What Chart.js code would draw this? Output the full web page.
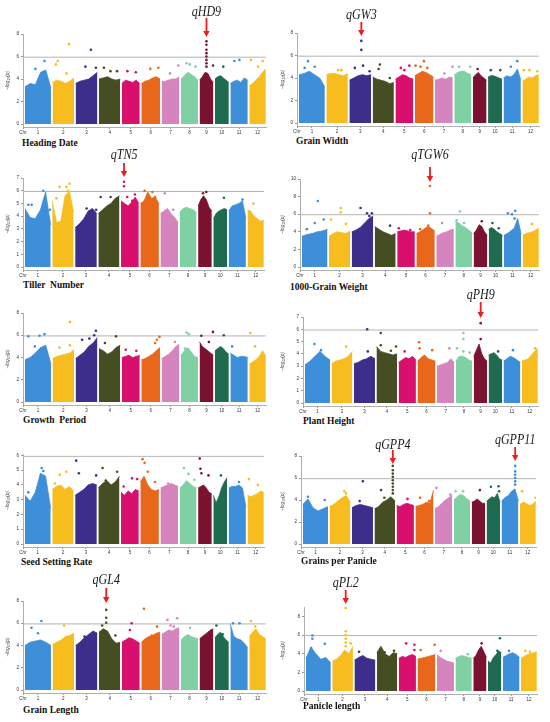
<!DOCTYPE html>
<html>
<head>
<meta charset="utf-8">
<script src="https://cdn.jsdelivr.net/npm/chart.js@4.4.0/dist/chart.umd.min.js"></script>
<style>
html, body { margin: 0; padding: 0; background: #fff; }
#page { position: relative; width: 550px; height: 722px; overflow: hidden; }
.panel { position: absolute; }
.trait { position: absolute; font-family: "Liberation Serif", "Times New Roman", serif; font-weight: bold;
         font-size: 9.5px; line-height: 1; white-space: pre; transform: translateY(-50%); color: #111; }
</style>
</head>
<body>
<div id="page"></div>
<script>
'use strict';

// chromosomes
const chrNames = ['1', '2', '3', '4', '5', '6', '7', '8', '9', '10', '11', '12'];
const chrLenMb = [43.3, 35.9, 36.4, 35.5, 29.9, 31.2, 29.7, 28.4, 23.0, 23.2, 29.0, 27.5];
const chrColors = ['#3d8fd9', '#f7bd1e', '#3d2e8c', '#454e23', '#d80f6d', '#e8671b',
                   '#d584bd', '#7fd1a4', '#7b1330', '#1f6b4f', '#3d8fd9', '#f7bd1e'];
const THRESHOLD = 5.94;

// Heading Date
const hdTicks = [0, 2, 4, 6, 8];
const hdBody = [
  [3.3, 3.6, 3.5, 4.6, 4.8, 3.2], [3.7, 3.9, 3.8, 3.6, 3.8, 4.1], [3.6, 3.8, 3.9, 4.0, 4.3, 4.6],
  [4.0, 4.1, 4.2, 4.0, 3.9, 4.0], [3.6, 3.9, 3.8, 3.7, 3.9, 3.6], [3.6, 3.8, 3.9, 4.1, 4.2, 4.0],
  [3.8, 3.8, 3.9, 4.0, 4.0, 4.2], [4.0, 4.3, 4.6, 4.4, 4.2, 3.9], [3.9, 4.2, 4.6, 4.5, 4.0, 3.7],
  [4.0, 4.2, 4.3, 4.1, 3.9, 3.7], [3.6, 3.8, 3.9, 3.7, 4.1, 3.9], [3.4, 3.6, 3.9, 4.2, 4.6, 4.9]
];
const hdPeaks = [
  [1, 0.40, 4.9], [1, 0.75, 5.6],
  [2, 0.16, 5.3], [2, 0.24, 5.6], [2, 0.65, 4.5], [2, 0.77, 7.1],
  [3, 0.45, 5.1], [3, 0.70, 6.6], [3, 0.93, 5.0],
  [4, 0.23, 5.0], [4, 0.54, 4.7], [4, 0.85, 4.7],
  [5, 0.31, 4.7], [5, 0.78, 4.6],
  [6, 0.48, 4.9], [6, 0.91, 5.0],
  [7, 0.47, 4.5], [7, 0.94, 5.2],
  [8, 0.33, 5.4], [8, 0.52, 5.3], [8, 0.85, 5.1],
  [9, 0.5, 7.35], [9, 0.5, 7.05], [9, 0.5, 6.6], [9, 0.5, 6.3], [9, 0.5, 6.0], [9, 0.5, 5.7],
  [9, 0.5, 5.4], [9, 0.5, 5.1], [9, 0.98, 5.2],
  [10, 0.6, 5.1],
  [11, 0.23, 5.6], [11, 0.52, 5.7],
  [12, 0.09, 5.7], [12, 0.53, 5.1], [12, 0.81, 5.6]
];

// Grain Width
const gwTicks = [0, 2, 4, 6, 8];
const gwBody = [
  [4.3, 4.4, 4.6, 4.3, 4.0, 3.2], [4.3, 4.4, 4.4, 4.3, 4.2, 4.4], [3.8, 4.0, 4.2, 4.3, 4.2, 4.3],
  [4.1, 3.9, 3.8, 3.7, 3.5, 3.6], [3.9, 4.1, 4.3, 4.2, 4.0, 3.9], [4.2, 4.4, 4.6, 4.5, 4.3, 4.1],
  [3.8, 3.9, 4.0, 3.9, 4.1, 4.0], [4.3, 4.5, 4.6, 4.6, 4.4, 4.3], [4.0, 4.3, 4.5, 4.2, 4.0, 3.8],
  [4.1, 4.2, 4.2, 4.1, 4.0, 3.9], [4.0, 4.2, 4.1, 4.3, 4.8, 3.8], [3.7, 3.9, 4.1, 4.0, 4.2, 4.3]
];
const gwPeaks = [
  [1, 0.22, 4.9], [1, 0.35, 5.5], [1, 0.61, 5.0],
  [2, 0.55, 4.7], [2, 0.70, 4.7],
  [3, 0.25, 4.9], [3, 0.55, 7.3], [3, 0.55, 6.5], [3, 0.63, 5.1], [3, 0.93, 4.6],
  [4, 0.28, 4.8], [4, 0.34, 5.2], [4, 0.81, 4.0],
  [5, 0.30, 4.9], [5, 0.50, 4.7], [5, 0.78, 5.1],
  [6, 0.04, 5.1], [6, 0.31, 5.0], [6, 0.49, 5.5], [6, 0.67, 4.9],
  [7, 0.53, 4.4], [7, 0.99, 5.0],
  [8, 0.28, 5.0], [8, 0.94, 5.0],
  [9, 0.35, 4.8],
  [10, 0.19, 4.7], [10, 0.88, 4.7],
  [11, 0.42, 5.0], [11, 0.79, 5.5],
  [12, 0.09, 4.7], [12, 0.43, 4.7], [12, 0.91, 4.6]
];

// Tiller Number
const tnTicks = [0, 1, 2, 3, 4, 5, 6, 7];
const tnBody = [
  [4.6, 3.9, 3.8, 4.5, 5.9, 3.3], [5.2, 3.5, 3.6, 5.6, 6.0, 4.3], [3.1, 3.4, 3.8, 4.4, 4.6, 4.2],
  [4.2, 4.5, 4.8, 5.0, 5.4, 5.6], [5.2, 5.0, 4.8, 5.1, 5.5, 5.0], [5.0, 5.2, 5.9, 5.4, 5.5, 5.0],
  [4.2, 4.4, 4.6, 4.2, 3.9, 3.5], [4.3, 4.6, 4.7, 4.6, 4.5, 4.3], [4.8, 5.3, 5.6, 5.3, 4.7, 4.4],
  [3.8, 4.2, 4.4, 4.5, 4.6, 4.5], [4.4, 4.8, 4.9, 5.0, 5.2, 3.8], [4.5, 4.4, 4.0, 3.8, 3.6, 3.7]
];
const tnPeaks = [
  [1, 0.13, 4.9], [1, 0.26, 4.9], [1, 0.71, 6.0], [1, 0.97, 4.5],
  [2, 0.19, 5.4], [2, 0.34, 6.3], [2, 0.66, 6.3], [2, 0.73, 6.0], [2, 0.81, 6.55],
  [3, 0.53, 4.6], [3, 0.97, 4.5],
  [4, 0.11, 5.5], [4, 0.58, 5.5], [4, 0.73, 5.1],
  [5, 0.17, 6.7], [5, 0.17, 6.35], [5, 0.35, 5.5], [5, 0.63, 5.2], [5, 0.78, 5.7],
  [6, 0.23, 6.0], [6, 0.65, 5.9], [6, 0.79, 5.5],
  [7, 0.25, 5.8], [7, 0.72, 4.5],
  [9, 0.36, 5.8], [9, 0.6, 5.9],
  [10, 0.77, 5.45],
  [11, 0.8, 5.3],
  [12, 0.36, 5.0]
];

// 1000-Grain Weight
const tgwTicks = [0, 2, 4, 6, 8, 10];
const tgwBody = [
  [3.5, 3.7, 3.8, 4.0, 4.1, 4.3], [3.5, 3.8, 4.0, 3.9, 3.8, 4.1], [4.0, 4.2, 4.5, 5.0, 5.5, 5.8],
  [4.6, 4.3, 4.0, 3.8, 3.6, 3.8], [4.0, 4.1, 4.2, 4.1, 4.0, 4.0], [3.8, 4.0, 4.3, 4.6, 4.4, 4.1],
  [3.5, 3.7, 3.9, 4.0, 4.2, 4.3], [5.2, 5.0, 4.7, 4.5, 4.2, 3.9], [3.8, 4.2, 4.8, 4.6, 4.0, 3.6],
  [4.3, 4.5, 4.3, 4.0, 3.8, 3.6], [3.6, 3.8, 4.1, 4.4, 5.5, 3.8], [3.6, 3.8, 3.9, 4.0, 4.2, 4.4]
];
const tgwPeaks = [
  [1, 0.19, 4.3], [1, 0.5, 5.0], [1, 0.62, 7.5], [1, 0.85, 5.4],
  [2, 0.09, 5.4], [2, 0.55, 6.7], [2, 0.55, 6.2], [2, 0.8, 4.9],
  [3, 0.41, 6.7], [3, 0.71, 6.1], [3, 0.82, 5.8], [3, 0.94, 6.1],
  [4, 0.73, 4.7],
  [5, 0.09, 4.4], [5, 0.74, 4.2],
  [6, 0.21, 4.3], [6, 0.65, 4.7], [6, 0.74, 9.2], [6, 0.74, 6.1],
  [7, 0.33, 5.0],
  [8, 0.08, 5.3], [8, 0.27, 6.3], [8, 0.52, 5.0],
  [9, 0.6, 5.2],
  [10, 0.27, 5.0], [10, 0.73, 4.4],
  [11, 0.23, 6.1], [11, 0.47, 6.0], [11, 0.62, 5.5], [11, 0.66, 6.4],
  [12, 0.58, 4.9]
];

// Growth Period
const gpTicks = [0, 2, 4, 6, 8];
const gpBody = [
  [3.8, 4.0, 4.4, 4.9, 5.1, 3.4], [3.9, 4.1, 4.2, 4.3, 4.4, 4.7], [3.9, 4.2, 4.5, 5.0, 5.3, 5.8],
  [4.8, 4.6, 4.3, 4.5, 4.9, 5.1], [4.0, 4.1, 4.2, 4.0, 4.1, 4.2], [3.8, 3.9, 4.1, 4.3, 4.6, 4.9],
  [3.9, 4.1, 4.3, 4.6, 5.0, 5.2], [4.2, 4.6, 4.9, 4.5, 4.1, 4.0], [5.4, 5.0, 4.8, 4.6, 4.4, 4.2],
  [4.6, 4.8, 5.0, 4.8, 4.5, 4.3], [4.4, 4.2, 4.0, 4.1, 4.1, 4.0], [3.4, 3.6, 3.8, 4.1, 4.6, 4.1]
];
const gpPeaks = [
  [1, 0.13, 5.9], [1, 0.38, 5.0], [1, 0.56, 5.95], [1, 0.75, 6.1],
  [2, 0.32, 4.9], [2, 0.81, 7.2], [2, 0.81, 5.1],
  [3, 0.3, 5.6], [3, 0.63, 5.7], [3, 0.85, 6.0], [3, 0.93, 6.4],
  [4, 0.28, 5.3], [4, 0.8, 5.9],
  [5, 0.22, 4.7], [5, 0.81, 4.6],
  [6, 0.74, 5.3], [6, 0.83, 5.6], [6, 0.97, 5.85],
  [7, 0.75, 5.4],
  [8, 0.23, 4.8], [8, 0.33, 6.25], [8, 0.46, 6.1],
  [9, 0.13, 5.95], [9, 0.68, 5.4], [9, 0.97, 6.3],
  [10, 0.64, 6.0],
  [11, 0.1, 5.0],
  [12, 0.06, 6.2], [12, 0.34, 5.0]
];

// Plant Height
const phTicks = [0, 1, 2, 3, 4, 5, 6, 7];
const phBody = [
  [3.1, 3.4, 3.8, 4.2, 3.8, 3.5], [3.2, 3.4, 3.5, 3.6, 3.8, 4.2], [3.2, 3.3, 3.5, 3.6, 3.8, 3.6],
  [4.6, 4.2, 4.1, 4.0, 3.9, 4.0], [3.3, 3.5, 3.7, 3.6, 3.8, 3.5], [3.4, 3.7, 3.9, 3.6, 3.5, 3.4],
  [3.0, 3.1, 3.2, 3.3, 3.6, 3.3], [3.4, 3.8, 3.8, 3.7, 3.5, 3.4], [3.8, 4.3, 4.8, 4.0, 3.6, 3.4],
  [3.9, 4.0, 4.1, 3.9, 3.6, 3.5], [3.4, 3.6, 3.8, 3.7, 3.5, 3.3], [3.4, 3.5, 3.6, 3.9, 4.2, 4.5]
];
const phPeaks = [
  [1, 0.38, 4.8], [1, 0.64, 4.3],
  [2, 0.7, 4.6],
  [3, 0.63, 6.0], [3, 0.66, 4.2],
  [4, 0.21, 5.7], [4, 0.21, 4.7], [4, 0.7, 4.25], [4, 0.95, 4.6],
  [5, 0.35, 4.2],
  [6, 0.09, 4.95], [6, 0.12, 4.45], [6, 0.82, 4.3],
  [7, 0.72, 4.45],
  [8, 0.08, 4.45], [8, 0.46, 5.7], [8, 0.46, 5.2], [8, 0.46, 4.2], [8, 0.85, 4.1],
  [9, 0.24, 4.1], [9, 0.52, 6.5], [9, 0.52, 5.2],
  [10, 0.71, 4.2],
  [11, 0.56, 4.3],
  [12, 0.82, 4.45], [12, 0.91, 3.8]
];

// Seed Setting Rate
const ssrTicks = [0, 1, 2, 3, 4, 5, 6];
const ssrBody = [
  [3.3, 2.9, 3.5, 4.8, 4.6, 2.4], [3.7, 3.9, 4.0, 3.7, 3.9, 3.6], [3.3, 3.5, 3.7, 4.0, 4.1, 4.0],
  [3.8, 4.1, 4.3, 4.0, 4.2, 4.6], [3.5, 3.3, 3.6, 3.4, 3.7, 3.6], [4.2, 4.6, 4.0, 3.7, 3.6, 3.7],
  [3.8, 3.9, 4.0, 4.1, 4.0, 3.9], [3.8, 4.0, 4.3, 4.1, 3.9, 3.8], [3.8, 3.9, 4.0, 3.8, 3.5, 3.4],
  [3.3, 2.8, 3.2, 3.8, 4.2, 4.5], [3.8, 3.9, 3.9, 4.0, 3.8, 2.5], [3.3, 3.2, 3.3, 3.4, 3.6, 3.5]
];
const ssrPeaks = [
  [1, 0.13, 3.5], [1, 0.65, 5.15], [1, 0.71, 4.95],
  [2, 0.12, 4.1], [2, 0.35, 4.7], [2, 0.66, 4.9],
  [3, 0.05, 5.65], [3, 0.17, 4.8], [3, 0.54, 3.7], [3, 0.97, 4.65],
  [4, 0.2, 5.15], [4, 0.35, 4.3], [4, 0.89, 4.9],
  [5, 0.15, 3.9], [5, 0.62, 4.45], [5, 0.91, 4.4],
  [6, 0.12, 5.75], [6, 0.23, 5.5], [6, 0.4, 4.9], [6, 0.79, 4.2],
  [7, 0.43, 4.1],
  [8, 0.25, 5.15], [8, 0.52, 4.75], [8, 0.87, 4.35],
  [9, 0.12, 5.8], [9, 0.17, 5.1], [9, 0.24, 4.8], [9, 0.76, 4.65],
  [10, 0.55, 4.65],
  [11, 0.6, 4.2],
  [12, 0.09, 4.4], [12, 0.64, 4.0]
];

// Grains per Panicle
const gppTicks = [0, 2, 4, 6, 8];
const gppBody = [
  [3.6, 4.1, 3.3, 3.0, 3.2, 3.4], [3.4, 3.6, 3.9, 4.2, 4.4, 3.8], [3.3, 3.5, 3.6, 3.5, 3.4, 3.3],
  [3.2, 3.4, 3.8, 4.0, 4.3, 3.9], [3.5, 3.4, 3.6, 3.7, 3.6, 3.5], [3.4, 3.5, 3.6, 3.8, 3.7, 4.9],
  [3.2, 3.4, 3.7, 4.0, 4.2, 4.5], [4.0, 4.3, 4.5, 4.4, 4.1, 3.9], [3.8, 3.9, 4.1, 3.9, 3.7, 3.7],
  [3.9, 4.1, 4.3, 4.2, 4.6, 3.8], [3.9, 4.2, 4.4, 4.8, 5.0, 3.9], [3.6, 3.8, 3.7, 3.5, 3.6, 3.9]
];
const gppPeaks = [
  [1, 0.2, 4.3], [1, 0.87, 4.0],
  [2, 0.71, 4.8], [2, 0.79, 4.6],
  [3, 0.37, 3.9], [3, 0.52, 5.7],
  [4, 0.32, 4.9], [4, 0.48, 4.2], [4, 0.89, 7.1], [4, 0.89, 6.7], [4, 0.89, 6.4], [4, 0.89, 6.1],
  [4, 0.89, 5.8], [4, 0.89, 5.5], [4, 0.89, 5.2], [4, 0.89, 4.9], [4, 0.89, 4.6],
  [5, 0.63, 4.1],
  [6, 0.26, 4.2], [6, 0.75, 3.9],
  [7, 0.08, 5.1], [7, 0.88, 4.5],
  [8, 0.11, 4.8], [8, 0.57, 4.8],
  [9, 0.61, 4.9],
  [10, 0.32, 5.2], [10, 0.89, 5.25], [10, 0.93, 4.8],
  [11, 0.81, 7.1], [11, 0.81, 6.6], [11, 0.81, 6.3], [11, 0.81, 6.0], [11, 0.81, 5.7], [11, 0.81, 5.4],
  [12, 0.14, 4.8], [12, 0.99, 4.2]
];

// Grain Length
const glTicks = [0, 2, 4, 6, 8];
const glBody = [
  [4.0, 4.3, 4.4, 4.5, 4.3, 4.0], [4.1, 4.3, 4.5, 4.8, 4.9, 5.1], [4.0, 4.3, 4.7, 5.0, 5.3, 5.1],
  [5.2, 5.5, 5.3, 4.6, 4.2, 4.3], [4.3, 4.5, 4.7, 4.6, 4.4, 4.2], [4.3, 4.6, 4.8, 4.9, 5.1, 5.2],
  [5.0, 5.2, 5.4, 5.3, 5.5, 5.6], [4.5, 4.8, 5.0, 4.8, 4.7, 4.6], [4.6, 4.8, 5.0, 5.2, 5.4, 5.5],
  [4.7, 5.0, 5.2, 4.8, 4.5, 4.3], [5.9, 4.8, 4.6, 4.5, 4.2, 3.8], [4.8, 5.2, 5.5, 5.0, 4.8, 4.6]
];
const glPeaks = [
  [1, 0.25, 5.6], [1, 0.5, 5.1], [1, 0.63, 6.2],
  [2, 0.54, 5.8],
  [3, 0.41, 4.8], [3, 0.88, 5.0],
  [4, 0.15, 5.8], [4, 0.34, 7.2], [4, 0.34, 6.5], [4, 0.34, 6.05], [4, 0.77, 4.9],
  [5, 0.45, 5.4], [5, 0.55, 6.0],
  [6, 0.14, 7.3], [6, 0.56, 4.9], [6, 0.84, 5.7],
  [7, 0.33, 6.3], [7, 0.51, 5.8], [7, 0.69, 5.7], [7, 0.87, 6.45],
  [8, 0.53, 5.6],
  [10, 0.11, 5.8], [10, 0.56, 5.0],
  [11, 0.15, 6.0], [11, 0.53, 6.0],
  [12, 0.1, 6.2], [12, 0.36, 5.7]
];

// Panicle length
const plTicks = [0, 2, 4, 6, 8];
const plBody = [
  [3.5, 4.7, 4.0, 3.4, 3.6, 3.0], [3.2, 3.4, 3.8, 4.4, 4.0, 4.8], [3.3, 3.6, 3.8, 3.5, 3.4, 3.3],
  [4.1, 4.8, 4.0, 3.7, 4.1, 4.0], [3.5, 3.7, 3.6, 3.8, 3.9, 3.7], [3.4, 3.5, 3.6, 3.7, 3.8, 3.9],
  [3.9, 3.6, 3.4, 3.2, 3.1, 3.0], [3.5, 3.7, 3.8, 3.7, 3.6, 3.5], [3.5, 3.8, 4.4, 4.8, 4.2, 3.6],
  [3.2, 3.0, 3.6, 3.9, 4.3, 4.1], [3.6, 3.8, 4.0, 4.1, 3.9, 3.6], [3.5, 3.7, 3.9, 4.0, 4.1, 4.2]
];
const plPeaks = [
  [1, 0.21, 4.6], [1, 0.26, 5.6], [1, 0.26, 5.95], [1, 0.76, 5.05],
  [2, 0.65, 8.9], [2, 0.65, 6.4], [2, 0.65, 6.0], [2, 0.65, 5.6], [2, 0.65, 5.2], [2, 0.65, 4.8], [2, 0.89, 5.1],
  [3, 0.22, 4.2],
  [4, 0.38, 4.15], [4, 0.84, 4.3],
  [5, 0.43, 5.1], [5, 0.91, 4.95], [5, 0.91, 4.4],
  [6, 0.18, 4.4], [6, 0.96, 4.95],
  [7, 0.22, 4.3],
  [8, 0.75, 3.95],
  [9, 0.63, 5.1],
  [10, 0.7, 4.3], [10, 0.89, 5.65],
  [11, 0.37, 4.3],
  [12, 0.27, 4.3], [12, 0.56, 4.2]
];

// x layout in Mb, with small gaps between chromosomes
const GAP = 2.6;
const chrStart = [];
let acc = 0;
chrLenMb.forEach(len => { chrStart.push(acc); acc += len + GAP; });
const xMin = -3.3;
const xMax = chrStart[11] + chrLenMb[11] + 0.3;
const chrCenters = chrStart.map((s, i) => s + chrLenMb[i] / 2);
const posOf = (chr, rel) => chrStart[chr - 1] + chrLenMb[chr - 1] * rel;

const panels = [
  { title: 'Heading Date', ticks: hdTicks, body: hdBody, peaks: hdPeaks, yMax: 8,
    left: 0, top: 0, right: 270, axisX: 23, yTop: 34, yZero: 124, titleX: 22, titleY: 144,
    genes: [{ label: 'qHD9', chr: 9, rel: 0.5, textY: 12, a0: 18, a1: 37 }] },
  { title: 'Grain Width', ticks: gwTicks, body: gwBody, peaks: gwPeaks, yMax: 8,
    left: 275, top: 0, right: 543, axisX: 297, yTop: 33, yZero: 123, titleX: 296, titleY: 142,
    genes: [{ label: 'qGW3', chr: 3, rel: 0.55, textY: 15, a0: 22, a1: 36 }] },
  { title: 'Tiller  Number', ticks: tnTicks, body: tnBody, peaks: tnPeaks, yMax: 7,
    left: 0, top: 145, right: 268, axisX: 23, yTop: 178, yZero: 267, titleX: 23, titleY: 286,
    genes: [{ label: 'qTN5', chr: 5, rel: 0.17, textY: 155, a0: 163, a1: 177 }] },
  { title: '1000-Grain Weight', ticks: tgwTicks, body: tgwBody, peaks: tgwPeaks, yMax: 10,
    left: 275, top: 145, right: 543, axisX: 300, yTop: 179, yZero: 267, titleX: 290, titleY: 288,
    genes: [{ label: 'qTGW6', chr: 6, rel: 0.74, textY: 155, a0: 167, a1: 182 }] },
  { title: 'Growth  Period', ticks: gpTicks, body: gpBody, peaks: gpPeaks, yMax: 8,
    left: 0, top: 286, right: 270, axisX: 23, yTop: 313, yZero: 402, titleX: 23, titleY: 421,
    genes: [] },
  { title: 'Plant Height', ticks: phTicks, body: phBody, peaks: phPeaks, yMax: 7,
    left: 275, top: 286, right: 542, axisX: 303, yTop: 317, yZero: 403, titleX: 303, titleY: 422,
    genes: [{ label: 'qPH9', chr: 9, rel: 0.52, textY: 295, a0: 302, a1: 318 }] },
  { title: 'Seed Setting Rate', ticks: ssrTicks, body: ssrBody, peaks: ssrPeaks, yMax: 6.1,
    left: 0, top: 432, right: 268, axisX: 23, yTop: 454, yZero: 544, titleX: 21, titleY: 563,
    genes: [] },
  { title: 'Grains per Panicle', ticks: gppTicks, body: gppBody, peaks: gppPeaks, yMax: 8,
    left: 275, top: 432, right: 540, axisX: 301, yTop: 456, yZero: 544, titleX: 301, titleY: 562,
    genes: [{ label: 'qGPP4', chr: 4, rel: 0.89, textY: 445, a0: 450, a1: 464 },
            { label: 'qGPP11', chr: 11, rel: 0.81, textY: 440, a0: 447, a1: 461 }] },
  { title: 'Grain Length', ticks: glTicks, body: glBody, peaks: glPeaks, yMax: 8,
    left: 0, top: 572, right: 270, axisX: 23, yTop: 601, yZero: 690, titleX: 23, titleY: 711,
    genes: [{ label: 'qGL4', chr: 4, rel: 0.34, textY: 580, a0: 588, a1: 603 }] },
  { title: 'Panicle length', ticks: plTicks, body: plBody, peaks: plPeaks, yMax: 9,
    left: 275, top: 572, right: 541, axisX: 304, yTop: 607, yZero: 691, titleX: 303, titleY: 707,
    genes: [{ label: 'qPL2', chr: 2, rel: 0.65, textY: 583, a0: 590, a1: 604 }] }
];

// gene names with red arrows, drawn above the peak they point at
const geneMarks = {
  id: 'geneMarks',
  afterDraw(chart, args, opts) {
    const ctx = chart.ctx;
    const xs = chart.scales.x;
    (opts.genes || []).forEach(g => {
      const x = xs.getPixelForValue(posOf(g.chr, g.rel));
      const ty = g.textY - opts.top, a0 = g.a0 - opts.top, a1 = g.a1 - opts.top;
      ctx.save();
      ctx.translate(x, ty);
      ctx.scale(1, 1.2);
      ctx.fillStyle = '#1a1a1a';
      ctx.font = 'italic 12px "Liberation Serif", serif';
      ctx.textAlign = 'center';
      ctx.textBaseline = 'middle';
      ctx.fillText(g.label, 0, 0);
      ctx.restore();
      ctx.save();
      ctx.strokeStyle = '#ee1c1c';
      ctx.fillStyle = '#ee1c1c';
      ctx.lineWidth = 1.8;
      ctx.beginPath();
      ctx.moveTo(x, a0);
      ctx.lineTo(x, a1 - 5);
      ctx.stroke();
      ctx.beginPath();
      ctx.moveTo(x - 3.2, a1 - 6);
      ctx.lineTo(x + 3.2, a1 - 6);
      ctx.lineTo(x, a1);
      ctx.closePath();
      ctx.fill();
      ctx.restore();
    });
  }
};

const page = document.getElementById('page');

function buildPanel(p) {
  const bottom = p.yZero + 3;
  const div = document.createElement('div');
  div.className = 'panel';
  div.style.left = p.left + 'px';
  div.style.top = p.top + 'px';
  div.style.width = (p.right - p.left) + 'px';
  div.style.height = (bottom + 10 - p.top) + 'px';
  const canvas = document.createElement('canvas');
  div.appendChild(canvas);
  page.appendChild(div);

  const label = document.createElement('div');
  label.className = 'trait';
  label.style.left = p.titleX + 'px';
  label.style.top = p.titleY + 'px';
  label.textContent = p.title;
  page.appendChild(label);

  const ppu = (p.yZero - p.yTop) / p.yMax;
  const yMin = -3 / ppu;

  const datasets = [];
  p.body.forEach((vals, c) => {
    datasets.push({
      data: vals.map((v, i) => ({ x: chrStart[c] + chrLenMb[c] * i / (vals.length - 1), y: v })),
      borderColor: chrColors[c],
      backgroundColor: chrColors[c],
      borderWidth: 0.8,
      pointRadius: 0,
      fill: 'origin',
      tension: 0,
      order: 1
    });
  });
  datasets.push({
    data: p.peaks.map(([c, r, v]) => ({ x: posOf(c, r), y: v })),
    showLine: false,
    pointRadius: 1.3,
    pointBorderWidth: 0,
    pointBackgroundColor: p.peaks.map(([c]) => chrColors[c - 1]),
    order: 0
  });
  datasets.push({
    data: [{ x: xMin, y: THRESHOLD }, { x: xMax, y: THRESHOLD }],
    borderColor: '#b4b4b4',
    borderWidth: 1,
    pointRadius: 0,
    fill: false,
    order: 2
  });

  new Chart(canvas.getContext('2d'), {
    type: 'line',
    data: { datasets: datasets },
    plugins: [geneMarks],
    options: {
      responsive: true,
      maintainAspectRatio: false,
      animation: false,
      events: [],
      layout: { padding: { top: p.yTop - p.top, left: 0, right: 0, bottom: 0 } },
      plugins: {
        legend: { display: false },
        tooltip: { enabled: false },
        geneMarks: { genes: p.genes, top: p.top }
      },
      scales: {
        x: {
          type: 'linear',
          min: xMin,
          max: xMax,
          afterBuildTicks: s => { s.ticks = [{ value: xMin }].concat(chrCenters.map(v => ({ value: v }))); },
          afterFit: s => { s.height = 10; },
          ticks: {
            callback: (v, i) => (i === 0 ? 'Chr' : chrNames[i - 1]),
            font: { size: 4.5, family: 'Liberation Sans' },
            color: '#333',
            padding: 1,
            maxRotation: 0,
            autoSkip: false
          },
          grid: { drawOnChartArea: false, tickLength: 2, color: '#999' },
          border: { color: '#999', width: 0.8 }
        },
        y: {
          min: yMin,
          max: p.yMax,
          afterBuildTicks: s => { s.ticks = p.ticks.map(v => ({ value: v })); },
          afterFit: s => { s.width = p.axisX - p.left; },
          ticks: { font: { size: 4.5, family: 'Liberation Sans' }, color: '#333', padding: 2 },
          grid: { drawOnChartArea: false, tickLength: 2, color: '#999' },
          border: { color: '#999', width: 0.8 },
          title: {
            display: true,
            text: '\u2212log\u2081\u2080(p)',
            font: { size: 5, style: 'italic', family: 'Liberation Sans' },
            color: '#444',
            padding: { top: 5, bottom: 0 }
          }
        }
      }
    }
  });
}

panels.forEach(buildPanel);
</script>
</body>
</html>
